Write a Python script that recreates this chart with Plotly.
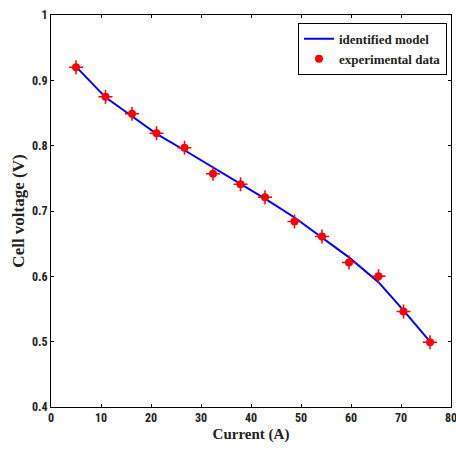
import plotly.graph_objects as go

current = [5.0, 10.9, 16.2, 21.1, 26.7, 32.4, 37.9, 42.8, 48.7, 54.2, 59.6, 65.5, 70.5, 75.8]
voltage_exp = [0.920, 0.875, 0.849, 0.819, 0.797, 0.757, 0.741, 0.721, 0.684, 0.661, 0.621, 0.600, 0.546, 0.499]
voltage_model = [0.921, 0.874, 0.845, 0.818, 0.793, 0.767, 0.742, 0.719, 0.690, 0.659, 0.629, 0.591, 0.548, 0.500]

x_ticks = [0, 10, 20, 30, 40, 50, 60, 70, 80]
y_ticks = [0.4, 0.5, 0.6, 0.7, 0.8, 0.9, 1]

tick_font = dict(family="Liberation Sans Narrow, Arial Narrow, Roboto Condensed, Liberation Sans",
                 size=12, color="#222", weight="bold")
title_font = dict(family="Liberation Serif, Times New Roman", size=15, color="#222", weight="bold")

fig = go.Figure()
fig.add_trace(go.Scatter(x=current, y=voltage_model, mode="lines", name="identified model",
                         line=dict(color="#0000ff", width=2)))
fig.add_trace(go.Scatter(x=current, y=voltage_exp, mode="markers", name="experimental data",
                         marker=dict(symbol="circle", size=8, color="#ff0000")))
fig.add_trace(go.Scatter(x=current, y=voltage_exp, mode="markers", showlegend=False,
                         marker=dict(symbol="cross-thin", size=10, color="#ff0000",
                                     line=dict(color="#ff0000", width=1.5))))

axis_common = dict(showgrid=False, zeroline=False, showline=True, linecolor="black", linewidth=1,
                   mirror="ticks", ticks="inside", ticklen=3, tickcolor="black", tickfont=tick_font,
                   automargin=False)

fig.update_layout(
    width=456, height=450,
    margin=dict(l=51, r=5, t=15, b=43),
    plot_bgcolor="white", paper_bgcolor="white",
    xaxis=dict(range=[0, 80], tickvals=x_ticks, ticktext=[str(v) for v in x_ticks],
               title=dict(text="Current (A)", font=title_font, standoff=4), **axis_common),
    yaxis=dict(range=[0.4, 1.0], tickvals=y_ticks, ticktext=["0.4", "0.5", "0.6", "0.7", "0.8", "0.9", "1"],
               title=dict(text="Cell voltage (V)", font=dict(title_font, size=17), standoff=3),
               **axis_common),
    legend=dict(x=0.99, y=0.98, xanchor="right", yanchor="top", bgcolor="white",
                bordercolor="black", borderwidth=1,
                font=dict(family="Liberation Serif, Times New Roman", size=13, color="#222", weight="bold"),
                tracegroupgap=0, itemwidth=30),
    showlegend=True,
    annotations=[dict(x=80, y=0, xref="x", yref="paper", text="80", showarrow=False,
                      yanchor="top", yshift=-2, xanchor="center", font=tick_font)],
)

fig.write_html("out.html", config={"displayModeBar": False},
               post_script="document.body.style.margin='0';document.body.style.padding='0';")
